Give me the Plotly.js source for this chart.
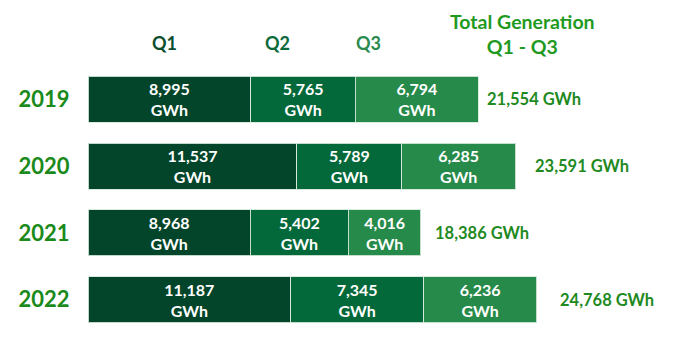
<!DOCTYPE html>
<html>
<head>
<meta charset="utf-8">
<script src="https://cdn.plot.ly/plotly-3.0.1.min.js"></script>
<style>html,body{margin:0;padding:0;background:#fff;}#chart{width:700px;height:351px;}</style>
</head>
<body>
<div id="chart"></div>
<script>
const years = ['2019', '2020', '2021', '2022'];
const q1 = [8995, 11537, 8968, 11187];
const q2 = [5765, 5789, 5402, 7345];
const q3 = [6794, 6285, 4016, 6236];
const totals = [21554, 23591, 18386, 24768];
const seriesNames = ['Q1', 'Q2', 'Q3'];
const totalHeader = 'Total Generation<br>Q1 - Q3';
const unit = 'GWh';

const FONT = 'Lato, "Open Sans", sans-serif';
const colors = ['#03452a', '#04693a', '#268a4a'];
const headerColors = ['#0b4d2f', '#0b6a3b', '#2b8a4f'];
const totalXShift = [7, 18, 12, 21];

function fmt(v) { return v.toLocaleString('en-US'); }
const yPos = years.map((_, i) => i);

const seriesVals = [q1, q2, q3];
const traces = seriesVals.map((vals, i) => ({
  type: 'bar',
  orientation: 'h',
  y: yPos,
  x: vals,
  name: seriesNames[i],
  text: vals.map(v => '<b>' + fmt(v) + '<br>' + unit + '</b>'),
  textposition: 'inside',
  insidetextanchor: 'middle',
  textangle: 0,
  textfont: {family: FONT, size: 16, color: '#ffffff'},
  marker: {color: colors[i], line: {color: 'rgba(215,232,220,0.9)', width: 1}},
  hoverinfo: 'skip'
}));

const annotations = [];
const headerX = [164, 277, 368];
seriesNames.forEach((n, i) => {
  annotations.push({
    xref: 'paper', yref: 'paper',
    x: (headerX[i] - 88) / 489, y: (333.5 - 42) / 268,
    text: '<b>' + n + '</b>', showarrow: false,
    xanchor: 'center', yanchor: 'middle',
    font: {family: FONT, size: 18, color: headerColors[i]}
  });
});
annotations.push({
  xref: 'paper', yref: 'paper',
  x: (522 - 88) / 489, y: (333.5 - 33) / 268,
  text: '<b>' + totalHeader + '</b>', showarrow: false,
  xanchor: 'center', yanchor: 'middle', align: 'center',
  font: {family: FONT, size: 19.5, color: '#1f9a1f'}
});
years.forEach((y, i) => {
  annotations.push({
    xref: 'x', yref: 'y', x: totals[i], y: yPos[i],
    text: '<b>' + fmt(totals[i]) + ' ' + unit + '</b>',
    showarrow: false, xanchor: 'left', yanchor: 'middle',
    xshift: totalXShift[i],
    font: {family: FONT, size: 16.5, color: '#1f8a1f'}
  });
});

const layout = {
  width: 700, height: 351,
  margin: {l: 88, r: 123, t: 66, b: 18},
  paper_bgcolor: '#ffffff', plot_bgcolor: '#ffffff',
  barmode: 'stack',
  bargap: 0.31,
  showlegend: false,
  xaxis: {range: [0, 27000], visible: false, fixedrange: true},
  yaxis: {
    range: [3.5, -0.5],
    tickvals: yPos, ticktext: years.map(y => '<b>' + y + '</b>'),
    showgrid: false, zeroline: false, showline: false,
    ticks: 'outside', ticklen: 13, tickcolor: 'rgba(0,0,0,0)',
    tickfont: {family: FONT, size: 22, color: '#1a8a1a'}
  },
  annotations: annotations,
  font: {family: FONT}
};

Plotly.newPlot('chart', traces, layout, {displayModeBar: false, staticPlot: true});
</script>
</body>
</html>
